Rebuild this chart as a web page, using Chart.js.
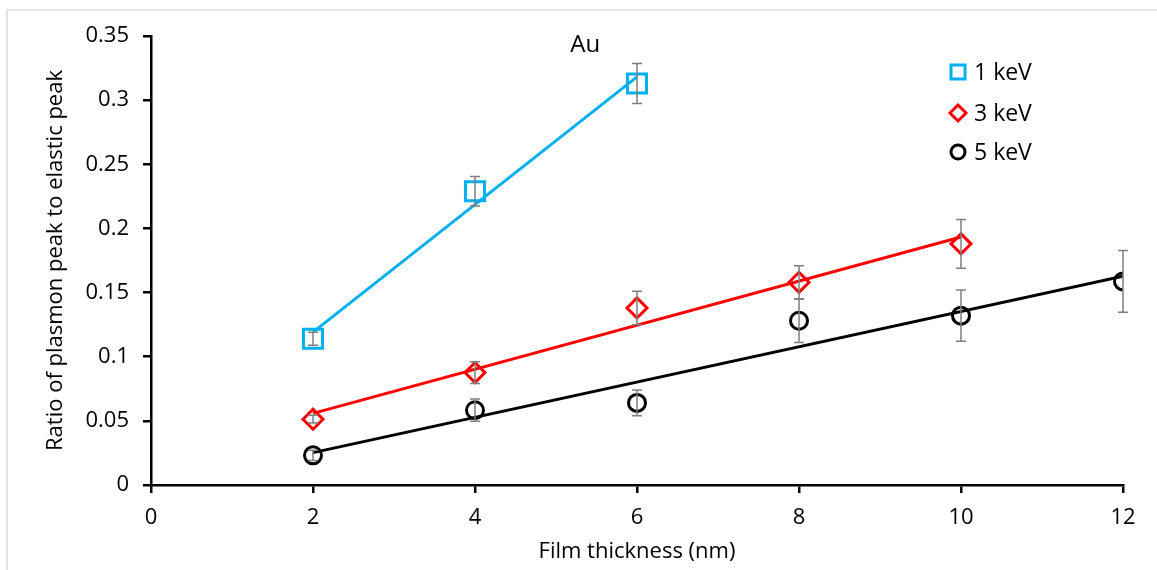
<!DOCTYPE html>
<html>
<head>
<meta charset="utf-8">
<script src="https://cdn.jsdelivr.net/npm/chart.js@4/dist/chart.umd.min.js"></script>
<style>
  html, body { margin: 0; padding: 0; background: #fff; }
  #wrap { position: relative; width: 1157px; height: 570px; }
  #frame { position: absolute; left: 6px; top: 9px; right: 0; bottom: 0;
           border-top: 2px solid #e2e2e2; border-left: 2px solid #e2e2e2; pointer-events: none; }
</style>
</head>
<body>
<div id="wrap">
  <canvas id="thicknessChart" width="1157" height="570"></canvas>
  <div id="frame"></div>
</div>
<script>
// --- data ---
const thickness1 = [2, 4, 6];
const ratio1 = [0.114, 0.229, 0.313];
const err1 = [0.005, 0.0115, 0.0156];

const thickness3 = [2, 4, 6, 8, 10];
const ratio3 = [0.0513, 0.0876, 0.138, 0.158, 0.188];
const err3 = [0.003, 0.0085, 0.013, 0.013, 0.019];

const thickness5 = [2, 4, 6, 8, 10, 12];
const ratio5 = [0.0231, 0.0583, 0.064, 0.128, 0.132, 0.1587];
const err5 = [0.004, 0.0087, 0.010, 0.017, 0.020, 0.024];

const seriesLabels = ['1 keV', '3 keV', '5 keV'];
const seriesColors = ['#00b0f0', '#ff0000', '#000000'];
const xTicks = [0, 2, 4, 6, 8, 10, 12];
const yTicks = [0, 0.05, 0.1, 0.15, 0.2, 0.25, 0.3, 0.35];

const FONT = "'Open Sans', sans-serif";

function toPoints(xs, ys) { return xs.map((x, i) => ({ x: x, y: ys[i] })); }

// least squares trendline, like Excel's linear trendline
function trend(xs, ys) {
    const n = xs.length;
    const mx = xs.reduce((a, b) => a + b, 0) / n;
    const my = ys.reduce((a, b) => a + b, 0) / n;
    let sxy = 0, sxx = 0;
    for (let i = 0; i < n; i++) { sxy += (xs[i] - mx) * (ys[i] - my); sxx += (xs[i] - mx) ** 2; }
    const k = sxy / sxx, b = my - k * mx;
    const x0 = Math.min(...xs), x1 = Math.max(...xs);
    return [{ x: x0, y: k * x0 + b }, { x: x1, y: k * x1 + b }];
}

function trendSet(xs, ys, color) {
    return { type: 'line', data: trend(xs, ys), borderColor: color, borderWidth: 3,
             pointRadius: 0, fill: false, showLine: true, errors: null };
}

function markerSet(label, xs, ys, errs, color, style, radius) {
    return { type: 'scatter', label: label, data: toPoints(xs, ys), errors: errs,
             borderColor: color, backgroundColor: 'rgba(0,0,0,0)', borderWidth: 3,
             pointStyle: style, pointRadius: radius, pointHoverRadius: radius };
}

// error bars from the arrays above
const errorBars = {
    id: 'errorBars',
    afterDatasetsDraw(chart) {
        const ctx = chart.ctx, xs = chart.scales.x, ys = chart.scales.y;
        ctx.save();
        ctx.strokeStyle = '#7f7f7f';
        ctx.lineWidth = 1.5;
        chart.data.datasets.forEach(ds => {
            if (!ds.errors) return;
            ds.data.forEach((p, i) => {
                const px = xs.getPixelForValue(p.x);
                const top = ys.getPixelForValue(p.y + ds.errors[i]);
                const bot = ys.getPixelForValue(p.y - ds.errors[i]);
                ctx.beginPath();
                ctx.moveTo(px, top); ctx.lineTo(px, bot);
                ctx.moveTo(px - 5, top); ctx.lineTo(px + 5, top);
                ctx.moveTo(px - 5, bot); ctx.lineTo(px + 5, bot);
                ctx.stroke();
            });
        });
        ctx.restore();
    }
};

// legend in the upper right + "Au" label
const sideText = {
    id: 'sideText',
    afterDraw(chart) {
        const ctx = chart.ctx;
        const xs = chart.scales.x, ys = chart.scales.y;
        ctx.save();
        ctx.fillStyle = '#000';
        ctx.font = '24px ' + FONT;
        ctx.textAlign = 'center';
        ctx.textBaseline = 'middle';
        ctx.fillText('Au', xs.getPixelForValue(5.36), ys.getPixelForValue(0.343));

        const lx = 958, ly = [72, 113, 152];
        ctx.lineWidth = 3;
        // square
        ctx.strokeStyle = seriesColors[0];
        ctx.strokeRect(lx - 7, ly[0] - 7, 14, 14);
        // diamond
        ctx.strokeStyle = seriesColors[1];
        ctx.beginPath();
        ctx.moveTo(lx, ly[1] - 8); ctx.lineTo(lx + 8, ly[1]); ctx.lineTo(lx, ly[1] + 8); ctx.lineTo(lx - 8, ly[1]);
        ctx.closePath(); ctx.stroke();
        // circle
        ctx.strokeStyle = seriesColors[2];
        ctx.beginPath(); ctx.arc(lx, ly[2], 7, 0, Math.PI * 2); ctx.stroke();

        ctx.textAlign = 'left';
        ctx.font = '23px ' + FONT;
        seriesLabels.forEach((t, i) => ctx.fillText(t, lx + 16, ly[i] + 1));
        ctx.restore();
    }
};

new Chart(document.getElementById('thicknessChart').getContext('2d'), {
    data: {
        datasets: [
            trendSet(thickness1, ratio1, seriesColors[0]),
            trendSet(thickness3, ratio3, seriesColors[1]),
            trendSet(thickness5, ratio5, seriesColors[2]),
            markerSet(seriesLabels[0], thickness1, ratio1, err1, seriesColors[0], 'rect', 13.5),
            markerSet(seriesLabels[1], thickness3, ratio3, err3, seriesColors[1], 'rectRot', 10),
            markerSet(seriesLabels[2], thickness5, ratio5, err5, seriesColors[2], 'circle', 8.5)
        ]
    },
    options: {
        responsive: false,
        animation: false,
        layout: { padding: { left: 0, top: 36, right: 34, bottom: 0 } },
        plugins: { legend: { display: false }, tooltip: { enabled: false } },
        scales: {
            x: {
                type: 'linear', min: 0, max: 12,
                afterFit(s) { s.height = 85; },
                afterBuildTicks(s) { s.ticks = xTicks.map(v => ({ value: v })); },
                border: { color: '#000', width: 2.5 },
                grid: { drawOnChartArea: false, drawTicks: true, tickLength: 8, color: '#000', lineWidth: 2.5 },
                ticks: { color: '#000', padding: 12, font: { family: FONT, size: 22 },
                         callback: v => String(v) },
                title: { display: true, text: 'Film thickness (nm)', color: '#000',
                         font: { family: FONT, size: 22 }, padding: { top: 0, bottom: 5 } }
            },
            y: {
                type: 'linear', min: 0, max: 0.35,
                afterFit(s) { s.width = 151; },
                afterBuildTicks(s) { s.ticks = yTicks.map(v => ({ value: v })); },
                border: { color: '#000', width: 2.5 },
                grid: { drawOnChartArea: false, drawTicks: true, tickLength: 8, color: '#000', lineWidth: 2.5 },
                ticks: { color: '#000', padding: 14, font: { family: FONT, size: 22 },
                         callback: v => String(+v.toFixed(2)) },
                title: { display: true, text: 'Ratio of plasmon peak to elastic peak', color: '#000',
                         font: { family: FONT, size: 22 }, padding: { top: 43, bottom: 0 } }
            }
        }
    },
    plugins: [errorBars, sideText]
});
</script>
</body>
</html>
